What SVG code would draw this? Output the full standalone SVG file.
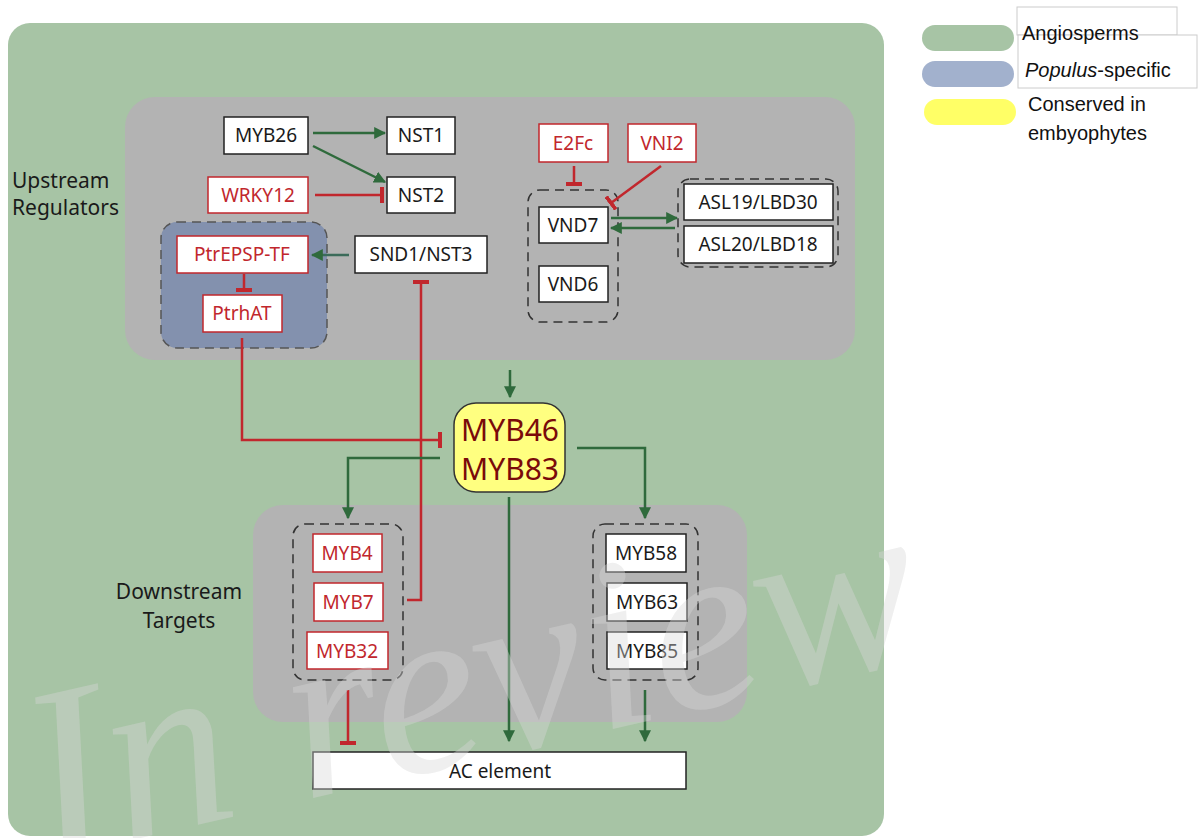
<svg xmlns="http://www.w3.org/2000/svg" width="1202" height="838" viewBox="0 0 1202 838">
<style>
text{font-family:"Noto Sans","Open Sans",sans-serif;}
.box{fill:#fff;stroke:#222;stroke-width:1.5;}
.rbox{fill:#fff;stroke:#c1272d;stroke-width:1.5;}
.t{font-size:19px;fill:#1a1a1a;text-anchor:middle;}
.rt{font-size:19px;fill:#c1272d;text-anchor:middle;}
.lab{font-size:21px;fill:#1a1a1a;}
.dash{fill:none;stroke:#333;stroke-width:1.5;stroke-dasharray:9 6;}
.act{fill:none;stroke:#2f6a3c;stroke-width:2.5;}
.inh{fill:none;stroke:#c1272d;stroke-width:2.5;}
text.leg{font-family:"Liberation Sans",Arial,sans-serif;font-size:20px;fill:#111;}
text.wm{font-family:"Liberation Serif","Times New Roman",serif;font-style:italic;font-size:245px;fill:#d6d6d6;fill-opacity:0.4;}
</style>
<defs>
<marker id="arrA" viewBox="0 0 10 10" refX="9" refY="5" markerWidth="12" markerHeight="12" orient="auto" markerUnits="userSpaceOnUse">
<path d="M0,0 L10,5 L0,10 z" fill="#2f6a3c"/>
</marker>
<marker id="bar" viewBox="0 0 4 16" refX="2" refY="8" markerWidth="4" markerHeight="16" orient="auto" markerUnits="userSpaceOnUse">
<rect x="0" y="0" width="4" height="16" fill="#c1272d"/>
</marker>
</defs>

<!-- backgrounds -->
<rect x="8" y="23" width="876" height="813" rx="22" fill="#a7c4a5"/>
<rect x="125" y="97" width="730" height="263" rx="30" fill="#b3b3b3"/>
<rect x="253" y="505" width="494" height="217" rx="30" fill="#b3b3b3"/>
<rect x="161" y="222" width="166" height="126" rx="16" fill="#8391ae" stroke="#555" stroke-width="1.5" stroke-dasharray="9 6"/>

<!-- legend -->
<g id="legend">
<rect x="922" y="25" width="92" height="26" rx="13" fill="#a7c4a5"/>
<rect x="922" y="61" width="92" height="26" rx="13" fill="#a2b1cd"/>
<rect x="924" y="99" width="92" height="26" rx="13" fill="#ffff66"/>
<rect x="1017" y="7" width="160" height="28" fill="#fff" stroke="#ccc" stroke-width="1"/>
<rect x="1018" y="35" width="179" height="53" fill="#fff" stroke="#ccc" stroke-width="1"/>
<text class="leg" x="1022" y="40">Angiosperms</text>
<text class="leg" x="1025" y="77"><tspan font-style="italic">Populus</tspan>-specific</text>
<text class="leg" x="1028" y="111">Conserved in</text>
<text class="leg" x="1028" y="140">embyophytes</text>
</g>

<!-- side labels -->
<text class="lab" x="12" y="188">Upstream</text>
<text class="lab" x="12" y="215">Regulators</text>
<text class="lab" x="179" y="599" text-anchor="middle">Downstream</text>
<text class="lab" x="179" y="628" text-anchor="middle">Targets</text>

<!-- dashed groups -->
<rect class="dash" x="528" y="190" width="90" height="132" rx="12"/>
<rect class="dash" x="678" y="179" width="160" height="88" rx="12"/>
<rect class="dash" x="293" y="524" width="110" height="156" rx="12"/>
<rect class="dash" x="593" y="524" width="105" height="156" rx="12"/>

<!-- connectors -->
<g id="connectors">
<line class="act" x1="313" y1="133" x2="385" y2="133" marker-end="url(#arrA)"/>
<line class="act" x1="313" y1="146" x2="385" y2="182" marker-end="url(#arrA)"/>
<line class="inh" x1="315" y1="195" x2="382" y2="195" marker-end="url(#bar)"/>
<line class="act" x1="349" y1="255" x2="312" y2="255" style="stroke:#3b6b5a" marker-end="url(#arrA)"/>
<line class="inh" x1="244" y1="274" x2="244" y2="290" marker-end="url(#bar)"/>
<path class="inh" d="M407,600 H421 V282" marker-end="url(#bar)"/>
<path class="inh" d="M242,338 V440 H440" marker-end="url(#bar)"/>
<line class="inh" x1="574" y1="166" x2="574" y2="184" marker-end="url(#bar)"/>
<line class="inh" x1="661" y1="166" x2="611" y2="203" marker-end="url(#bar)"/>
<line class="act" x1="611" y1="218" x2="677" y2="218" marker-end="url(#arrA)"/>
<line class="act" x1="675" y1="228" x2="611" y2="228" marker-end="url(#arrA)"/>
<line class="act" x1="510" y1="370" x2="510" y2="397" marker-end="url(#arrA)"/>
<path class="act" d="M440,458 H348 V518" marker-end="url(#arrA)"/>
<path class="act" d="M577,448 H645 V518" marker-end="url(#arrA)"/>
<line class="act" x1="509" y1="497" x2="509" y2="741" marker-end="url(#arrA)"/>
<line class="inh" x1="348" y1="690" x2="348" y2="743" marker-end="url(#bar)"/>
<line class="act" x1="645" y1="690" x2="645" y2="741" marker-end="url(#arrA)"/>
</g>

<!-- nodes -->
<g id="MYB26"><rect class="box" x="224" y="117" width="84" height="37"/><text class="t" x="266" y="142">MYB26</text></g>
<g id="NST1"><rect class="box" x="387" y="117" width="68" height="37"/><text class="t" x="421" y="142">NST1</text></g>
<g id="NST2"><rect class="box" x="387" y="177" width="68" height="36"/><text class="t" x="421" y="202">NST2</text></g>
<g id="WRKY12"><rect class="rbox" x="208" y="177" width="100" height="36"/><text class="rt" x="258" y="202">WRKY12</text></g>
<g id="PtrEPSP-TF"><rect class="rbox" x="177" y="236" width="131" height="37"/><text class="rt" x="242" y="261">PtrEPSP-TF</text></g>
<g id="PtrhAT"><rect class="rbox" x="203" y="295" width="79" height="37"/><text class="rt" x="242" y="320">PtrhAT</text></g>
<g id="SND1"><rect class="box" x="355" y="236" width="132" height="37"/><text class="t" x="421" y="261">SND1/NST3</text></g>
<g id="E2Fc"><rect class="rbox" x="539" y="124" width="69" height="38"/><text class="rt" x="573" y="150">E2Fc</text></g>
<g id="VNI2"><rect class="rbox" x="628" y="124" width="68" height="38"/><text class="rt" x="662" y="150">VNI2</text></g>
<g id="VND7"><rect class="box" x="539" y="207" width="69" height="36"/><text class="t" x="573" y="232">VND7</text></g>
<g id="VND6"><rect class="box" x="539" y="266" width="69" height="36"/><text class="t" x="573" y="291">VND6</text></g>
<g id="ASL19"><rect class="box" x="684" y="184" width="149" height="36"/><text class="t" x="758" y="209">ASL19/LBD30</text></g>
<g id="ASL20"><rect class="box" x="684" y="226" width="149" height="37"/><text class="t" x="758" y="251">ASL20/LBD18</text></g>
<g id="MYB46"><rect x="454" y="403" width="111" height="89" rx="22" fill="#ffff80" stroke="#333" stroke-width="1.5"/><text x="510" y="441" font-size="30" fill="#7a0a0a" text-anchor="middle">MYB46</text><text x="510" y="480" font-size="30" fill="#7a0a0a" text-anchor="middle">MYB83</text></g>
<g id="MYB4"><rect class="rbox" x="313" y="534" width="69" height="38"/><text class="rt" x="347" y="560">MYB4</text></g>
<g id="MYB7"><rect class="rbox" x="314" y="583" width="69" height="38"/><text class="rt" x="348" y="609">MYB7</text></g>
<g id="MYB32"><rect class="rbox" x="307" y="632" width="81" height="37"/><text class="rt" x="347" y="658">MYB32</text></g>
<g id="MYB58"><rect class="box" x="606" y="534" width="80" height="38"/><text class="t" x="646" y="560">MYB58</text></g>
<g id="MYB63"><rect class="box" x="607" y="583" width="80" height="38"/><text class="t" x="647" y="609">MYB63</text></g>
<g id="MYB85"><rect class="box" x="607" y="632" width="80" height="37"/><text class="t" x="647" y="658">MYB85</text></g>
<g id="AC"><rect class="box" x="313" y="752" width="373" height="37"/><text class="t" x="500" y="778">AC element</text></g>

<!-- watermark -->
<text class="wm" x="0" y="0" transform="translate(45,860) rotate(-13)">In review</text>
</svg>
